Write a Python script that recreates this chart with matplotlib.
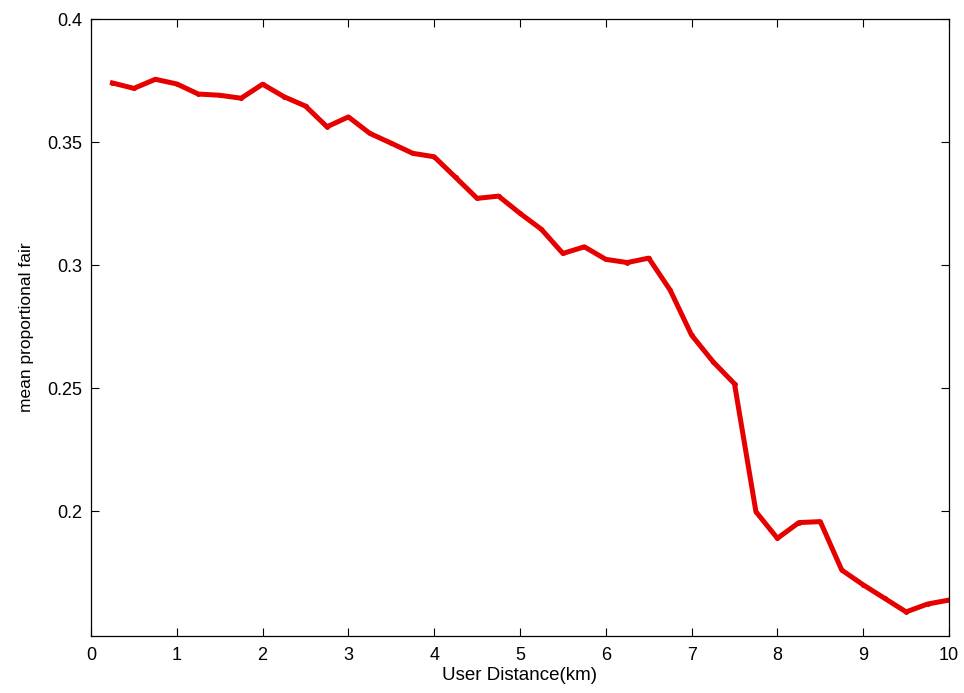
import matplotlib.pyplot as plt

# values
distance = [0.25, 0.5, 0.75, 1.0, 1.25, 1.5, 1.75, 2.0, 2.25, 2.5,
            2.75, 3.0, 3.25, 3.5, 3.75, 4.0, 4.25, 4.5, 4.75, 5.0,
            5.25, 5.5, 5.75, 6.0, 6.25, 6.5, 6.75, 7.0, 7.25, 7.5,
            7.75, 8.0, 8.25, 8.5, 8.75, 9.0, 9.25, 9.5, 9.75, 10.0]
pf_mean = [0.374, 0.3718, 0.3755, 0.3736, 0.3695, 0.369, 0.3678, 0.3735, 0.3684, 0.3646,
           0.3562, 0.3602, 0.3535, 0.3495, 0.3454, 0.344, 0.3356, 0.3271, 0.328, 0.321,
           0.3145, 0.3047, 0.3074, 0.3023, 0.301, 0.3028, 0.2898, 0.2715, 0.2607, 0.2517,
           0.1997, 0.1889, 0.1953, 0.1957, 0.176, 0.170, 0.1645, 0.159, 0.1622, 0.1638]

plt.rcParams['font.family'] = ['Liberation Sans', 'DejaVu Sans']

fig = plt.figure(figsize=(9.64, 6.93), dpi=100)
ax = fig.add_axes([91 / 964, 57 / 693, 858 / 964, 617 / 693])

ax.plot(distance, pf_mean, color=(0.9, 0.0, 0.0), linewidth=3.6,
        marker='.', markersize=5, solid_joinstyle='round')

ax.set_xlim(0, 10)
ax.set_ylim(0.1492, 0.4)
ax.set_xticks(range(0, 11))
ax.set_yticks([0.2, 0.25, 0.3, 0.35, 0.4])
ax.set_yticklabels(['0.2', '0.25', '0.3', '0.35', '0.4'])
ax.tick_params(direction='in', length=6, width=0.8, top=True, right=True,
               labelsize=13, pad=6)
ax.tick_params(axis='x', pad=8)
for s in ax.spines.values():
    s.set_linewidth(0.9)

ax.set_xlabel('User Distance(km)', fontsize=13.5, labelpad=2)
ax.set_ylabel('mean proportional fair', fontsize=12.5, labelpad=10)

fig.savefig('out.png', dpi=100)
